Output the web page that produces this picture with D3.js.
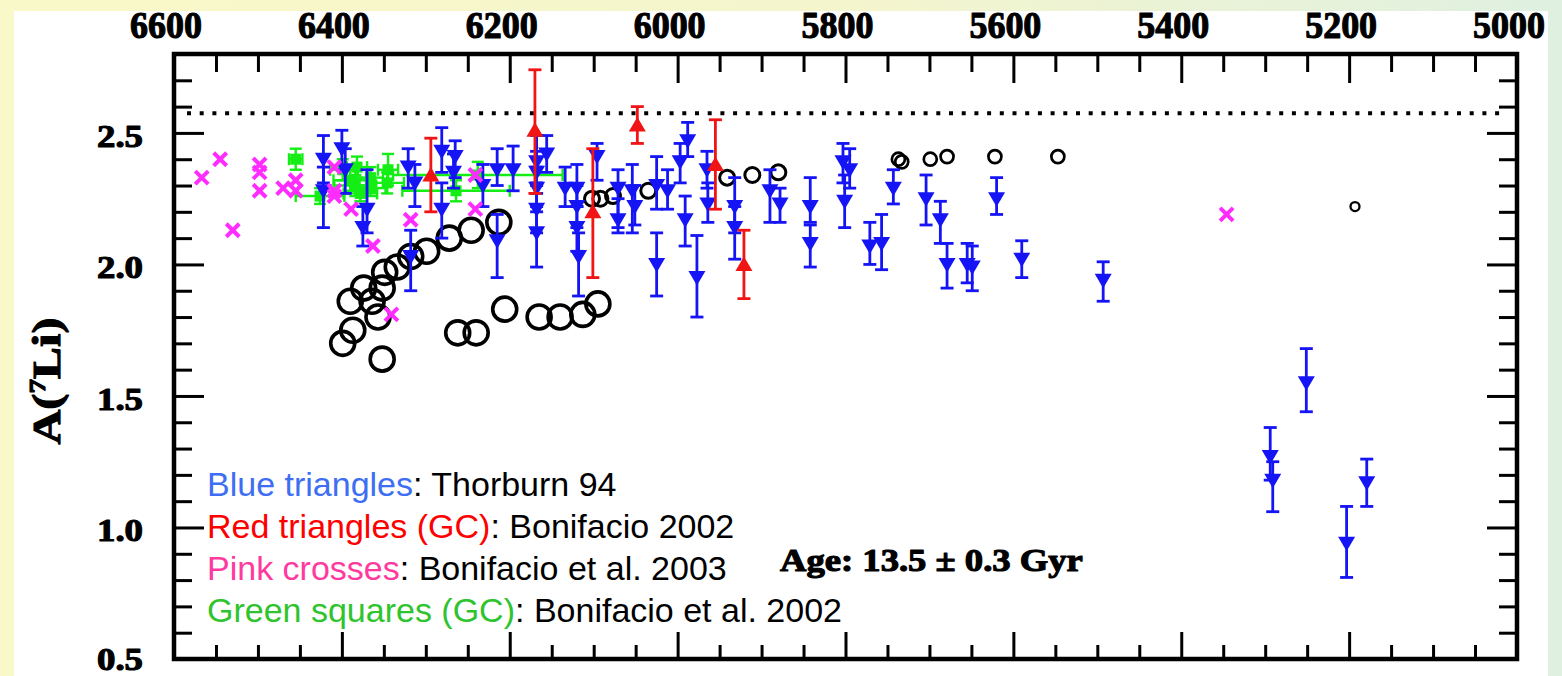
<!DOCTYPE html>
<html><head><meta charset="utf-8">
<script src="https://cdn.jsdelivr.net/npm/d3@7"></script>
<style>html,body{margin:0;padding:0;overflow:hidden;background:#fff;}</style>
</head><body>
<svg id="c" width="1562" height="676"></svg>
<script>
// ---------------- DATA ----------------
const xMajorTicks = [6600, 6400, 6200, 6000, 5800, 5600, 5400, 5200, 5000];
const yTickLabels = ["0.5", "1.0", "1.5", "2.0", "2.5"];
const plateauLi = 2.575;

// Thorburn 94 (blue, down triangles): [Teff, A(Li), lowErrEnd, highErrEnd]
const thorburn94 = [
  [6422, 2.40, 2.31, 2.49], [6422, 2.28, 2.14, 2.37], [6400, 2.44, 2.36, 2.51],
  [6396, 2.36, 2.27, 2.44], [6370, 2.21, 2.12, 2.36], [6375, 2.14, 2.07, 2.22],
  [6321, 2.37, 2.29, 2.44], [6313, 2.31, 2.22, 2.38], [6318, 2.03, 1.90, 2.13],
  [6281, 2.43, 2.35, 2.52], [6265, 2.41, 2.33, 2.47], [6267, 2.35, 2.29, 2.42],
  [6281, 2.21, 2.10, 2.31], [6232, 2.30, 2.22, 2.38], [6215, 2.36, 2.30, 2.44],
  [6215, 2.09, 1.95, 2.19], [6196, 2.36, 2.28, 2.45], [6168, 2.39, 2.31, 2.49],
  [6168, 2.35, 2.27, 2.43], [6168, 2.29, 2.20, 2.37], [6168, 2.21, 2.12, 2.30],
  [6168, 2.12, 1.99, 2.22], [6156, 2.42, 2.35, 2.49], [6134, 2.29, 2.22, 2.37],
  [6120, 2.29, 2.22, 2.38], [6120, 2.22, 2.14, 2.30], [6120, 2.14, 2.05, 2.22],
  [6118, 2.03, 1.88, 2.12], [6096, 2.41, 2.32, 2.46], [6071, 2.29, 2.14, 2.36],
  [6071, 2.17, 2.12, 2.25], [6054, 2.28, 2.12, 2.38], [6051, 2.22, 2.15, 2.30],
  [6025, 2.30, 2.21, 2.41], [6025, 2.00, 1.88, 2.12], [6012, 2.28, 2.21, 2.36],
  [5997, 2.39, 2.31, 2.46], [5988, 2.47, 2.41, 2.54], [5991, 2.17, 2.07, 2.26],
  [5977, 1.95, 1.80, 2.11], [5965, 2.36, 2.29, 2.43], [5964, 2.23, 2.16, 2.31],
  [5932, 2.22, 2.12, 2.33], [5932, 2.14, 2.02, 2.22], [5890, 2.28, 2.16, 2.36],
  [5878, 2.23, 2.16, 2.29], [5842, 2.22, 2.16, 2.33], [5842, 2.08, 1.99, 2.15],
  [5803, 2.39, 2.31, 2.46], [5795, 2.36, 2.29, 2.44], [5801, 2.24, 2.14, 2.34],
  [5771, 2.07, 2.00, 2.16], [5757, 2.08, 1.98, 2.19], [5743, 2.29, 2.23, 2.36],
  [5704, 2.25, 2.15, 2.34], [5687, 2.17, 2.08, 2.24], [5679, 2.00, 1.91, 2.08],
  [5655, 2.00, 1.93, 2.08], [5649, 1.99, 1.90, 2.07], [5620, 2.25, 2.19, 2.33],
  [5590, 2.02, 1.95, 2.09], [5493, 1.94, 1.86, 2.01], [5251, 1.55, 1.44, 1.68],
  [5294, 1.27, 1.18, 1.38], [5291, 1.18, 1.06, 1.25], [5203, 0.94, 0.81, 1.08],
  [5179, 1.17, 1.08, 1.26]
];

// Bonifacio 2002 (red, GC): [Teff, A(Li), lowErrEnd, highErrEnd]
const bonifacio2002 = [
  [6170, 2.51, 2.27, 2.74], [6048, 2.53, 2.46, 2.60], [5955, 2.38, 2.21, 2.55],
  [6101, 2.20, 1.95, 2.44], [5921, 2.00, 1.87, 2.13], [6294, 2.34, 2.20, 2.48]
];

// Bonifacio et al. 2003 (pink crosses): [Teff, A(Li)]
const bonifacio2003 = [
  [6567, 2.33], [6545, 2.40], [6530, 2.13], [6498, 2.38], [6498, 2.35], [6498, 2.28],
  [6470, 2.29], [6455, 2.32], [6455, 2.28], [6409, 2.37], [6409, 2.28], [6409, 2.26],
  [6389, 2.21], [6363, 2.07], [6318, 2.17], [6341, 1.81], [6241, 2.34], [6241, 2.21],
  [5346, 2.19]
];

// Bonifacio et al. 2002 (green, GC): [Teff, A(Li), TeffErr, LiErr]
const bonifacio2002GC = [
  [6455, 2.40, 8, 0.04], [6426, 2.26, 29, 0.03], [6399, 2.36, 15, 0.04],
  [6390, 2.32, 20, 0.04], [6382, 2.37, 12, 0.04], [6384, 2.30, 25, 0.04],
  [6378, 2.27, 20, 0.03], [6366, 2.33, 15, 0.04], [6366, 2.29, 18, 0.03],
  [6345, 2.36, 12, 0.06], [6346, 2.31, 20, 0.04], [6238, 2.34, 101, 0.05],
  [6264, 2.28, 64, 0.04]
];

// Open circles (model stars), grouped by symbol size
const circlesLarge = [
  [6399, 1.70], [6387, 1.75], [6390, 1.86], [6374, 1.91], [6364, 1.86], [6357, 1.80],
  [6352, 1.91], [6349, 1.97], [6334, 1.99], [6318, 2.03], [6299, 2.05], [6272, 2.10],
  [6246, 2.13], [6213, 2.16], [6352, 1.64], [6262, 1.74], [6240, 1.74], [6206, 1.83],
  [6165, 1.80], [6140, 1.80], [6113, 1.81], [6095, 1.85]
];
const circlesMedium = [
  [6102, 2.25], [6092, 2.25], [6077, 2.26], [6035, 2.28], [5941, 2.33], [5911, 2.34], [5880, 2.35]
];
const circlesSmall = [
  [5737, 2.40], [5733, 2.39], [5699, 2.40], [5679, 2.41], [5622, 2.41], [5547, 2.41]
];
const circlesTiny = [[5193, 2.22]];

const legendLines = [
  ["Blue triangles", ": Thorburn 94", "#3d6ef4"],
  ["Red triangles (GC)", ": Bonifacio 2002", "#ff0000"],
  ["Pink crosses", ": Bonifacio et al. 2003", "#ff3a9e"],
  ["Green squares (GC)", ": Bonifacio et al. 2002", "#2ec42e"]
];
const ageText = "Age: 13.5 \u00B1 0.3 Gyr";

// ---------------- DRAW ----------------
const svg = d3.select("#c");
const defs = svg.append("defs");
const grad = defs.append("linearGradient").attr("id", "bg").attr("x1", 0).attr("x2", 1).attr("y1", 0).attr("y2", 0);
grad.append("stop").attr("offset", "0%").attr("stop-color", "#f9f8c8");
grad.append("stop").attr("offset", "55%").attr("stop-color", "#f4f5cd");
grad.append("stop").attr("offset", "100%").attr("stop-color", "#dff0e1");
svg.append("rect").attr("width", 1562).attr("height", 676).attr("fill", "url(#bg)");
svg.append("rect").attr("x", 14).attr("y", 11).attr("width", 1534).attr("height", 665).attr("fill", "#fff");

const x = d3.scaleLinear().domain([6600, 5000]).range([174, 1517]);
const y = d3.scaleLinear().domain([0.5, 2.8]).range([659, 54]);

const xMinor = d3.range(6600, 4999, -50).filter(v => !xMajorTicks.includes(v));
const yAll = d3.range(5, 29).map(v => v / 10);
const yMajorVals = yTickLabels.map(Number);
const yMinor = yAll.filter(v => !yMajorVals.some(m => Math.abs(m - v) < 1e-6));

function styleAxis(sel) {
  sel.select(".domain").remove();
  sel.selectAll("text").remove();
  sel.selectAll("line").attr("stroke", "#000").attr("stroke-width", 3);
}
const Y0 = y(2.8), Y1 = y(0.5), X0 = x(6600), X1 = x(5000);
svg.append("g").attr("transform", `translate(0,${Y0})`).call(d3.axisBottom(x).tickValues(xMinor).tickSize(18).tickFormat("")).call(styleAxis);
svg.append("g").attr("transform", `translate(0,${Y0})`).call(d3.axisBottom(x).tickValues(xMajorTicks).tickSize(29).tickFormat("")).call(styleAxis);
svg.append("g").attr("transform", `translate(0,${Y1})`).call(d3.axisTop(x).tickValues(xMinor).tickSize(14).tickFormat("")).call(styleAxis);
svg.append("g").attr("transform", `translate(0,${Y1})`).call(d3.axisTop(x).tickValues(xMajorTicks).tickSize(27).tickFormat("")).call(styleAxis);
svg.append("g").attr("transform", `translate(${X0},0)`).call(d3.axisRight(y).tickValues(yMinor).tickSize(18).tickFormat("")).call(styleAxis);
svg.append("g").attr("transform", `translate(${X0},0)`).call(d3.axisRight(y).tickValues(yMajorVals).tickSize(30).tickFormat("")).call(styleAxis);
svg.append("g").attr("transform", `translate(${X1},0)`).call(d3.axisLeft(y).tickValues(yMinor).tickSize(18).tickFormat("")).call(styleAxis);
svg.append("g").attr("transform", `translate(${X1},0)`).call(d3.axisLeft(y).tickValues(yMajorVals).tickSize(30).tickFormat("")).call(styleAxis);

svg.append("rect").attr("x", X0).attr("y", Y0).attr("width", X1 - X0).attr("height", Y1 - Y0)
  .attr("fill", "none").attr("stroke", "#000").attr("stroke-width", 4.5);

function fitted(parent, str, cx, cy, anchor, width, fontSize) {
  const g = parent.append("g");
  const t = g.append("text").attr("x", 0).attr("y", 0)
    .attr("font-family", "'Liberation Serif','Times New Roman',serif")
    .attr("font-weight", "bold").attr("font-size", fontSize)
    .attr("text-anchor", anchor).attr("fill", "#000")
    .attr("stroke", "#000").attr("stroke-width", 1.1).attr("stroke-linejoin", "round").text(str);
  const w = t.node().getComputedTextLength();
  g.attr("transform", `translate(${cx},${cy}) scale(${width / w},1)`);
  return t;
}

xMajorTicks.forEach(v => fitted(svg, String(v), x(v) - 8, 38, "middle", 72, 37));
yTickLabels.forEach(l => fitted(svg, l, 143, Math.min(y(+l) + 14, 670), "end", 46, 32));

(function () {
  const g = svg.append("g");
  const t = g.append("text").attr("x", 0).attr("y", 0)
    .attr("font-family", "'Liberation Serif','Times New Roman',serif")
    .attr("font-weight", "bold").attr("font-size", 40).attr("text-anchor", "middle")
    .attr("stroke", "#000").attr("stroke-width", 1.1).attr("stroke-linejoin", "round");
  t.append("tspan").text("A(");
  t.append("tspan").attr("font-size", 24).attr("dy", -15).text("7");
  t.append("tspan").attr("dy", 15).text("Li)");
  const w = t.node().getComputedTextLength();
  g.attr("transform", `translate(60,381) rotate(-90) scale(${127 / w},1)`);
})();

svg.append("line").attr("x1", 187).attr("x2", 1506).attr("y1", y(plateauLi)).attr("y2", y(plateauLi))
  .attr("stroke", "#000").attr("stroke-width", 4).attr("stroke-dasharray", "4 8.7");

const plot = svg.append("g");

function drawCircles(data, r, sw) {
  plot.append("g").selectAll("circle").data(data).join("circle")
    .attr("cx", d => x(d[0])).attr("cy", d => y(d[1])).attr("r", r)
    .attr("fill", "none").attr("stroke", "#000").attr("stroke-width", sw);
}
drawCircles(circlesLarge, 12, 3.6);
drawCircles(circlesMedium, 7.5, 3);
drawCircles(circlesSmall, 6.5, 2.7);
drawCircles(circlesTiny, 4.5, 2.3);

const GREEN = "#14ee14";
const gG = plot.append("g").attr("stroke", GREEN).attr("stroke-width", 2.4);
bonifacio2002GC.forEach(d => {
  const cx = x(d[0]), cy = y(d[1]);
  const xl = x(d[0] + d[2]), xr = x(d[0] - d[2]);
  const yt = y(d[1] + d[3]), yb = y(d[1] - d[3]);
  gG.append("line").attr("x1", xl).attr("x2", xr).attr("y1", cy).attr("y2", cy);
  gG.append("line").attr("x1", xl).attr("x2", xl).attr("y1", cy - 6).attr("y2", cy + 6);
  gG.append("line").attr("x1", xr).attr("x2", xr).attr("y1", cy - 6).attr("y2", cy + 6);
  gG.append("line").attr("x1", cx).attr("x2", cx).attr("y1", yt).attr("y2", yb);
  gG.append("line").attr("x1", cx - 6).attr("x2", cx + 6).attr("y1", yt).attr("y2", yt);
  gG.append("line").attr("x1", cx - 6).attr("x2", cx + 6).attr("y1", yb).attr("y2", yb);
  gG.append("rect").attr("x", cx - 5.5).attr("y", cy - 5.5).attr("width", 11).attr("height", 11).attr("fill", GREEN).attr("stroke", "none");
});

function drawTri(data, color, down) {
  const gg = plot.append("g");
  data.forEach(d => {
    const cx = x(d[0]), yl = y(d[2]), yh = y(d[3]);
    gg.append("line").attr("x1", cx).attr("x2", cx).attr("y1", yl).attr("y2", yh).attr("stroke", color).attr("stroke-width", 2.8);
    [yl, yh].forEach(yy => gg.append("line").attr("x1", cx - 6.5).attr("x2", cx + 6.5).attr("y1", yy).attr("y2", yy).attr("stroke", color).attr("stroke-width", 2.8));
  });
  const path = down ? "M-8.5,-6.5L8.5,-6.5L0,8Z" : "M-8.5,6.5L8.5,6.5L0,-8Z";
  gg.selectAll("path").data(data).join("path")
    .attr("d", path).attr("transform", d => `translate(${x(d[0])},${y(d[1])})`).attr("fill", color);
}
drawTri(thorburn94, "#1414f5", true);

const gP = plot.append("g").attr("stroke", "#ff2cff").attr("stroke-width", 4);
bonifacio2003.forEach(d => {
  const cx = x(d[0]), cy = y(d[1]);
  gP.append("line").attr("x1", cx - 6.5).attr("x2", cx + 6.5).attr("y1", cy - 6.5).attr("y2", cy + 6.5);
  gP.append("line").attr("x1", cx - 6.5).attr("x2", cx + 6.5).attr("y1", cy + 6.5).attr("y2", cy - 6.5);
});

drawTri(bonifacio2002, "#f01414", false);

const baselines = [496, 538, 580, 622];
legendLines.forEach((l, i) => {
  const t = svg.append("text").attr("x", 207).attr("y", baselines[i])
    .attr("font-family", "'Liberation Sans',Arial,sans-serif").attr("font-size", 34);
  t.append("tspan").attr("fill", l[2]).text(l[0]);
  t.append("tspan").attr("fill", "#000").text(l[1]);
});

fitted(svg, ageText, 780, 571, "start", 303, 32);
</script>
</body></html>
